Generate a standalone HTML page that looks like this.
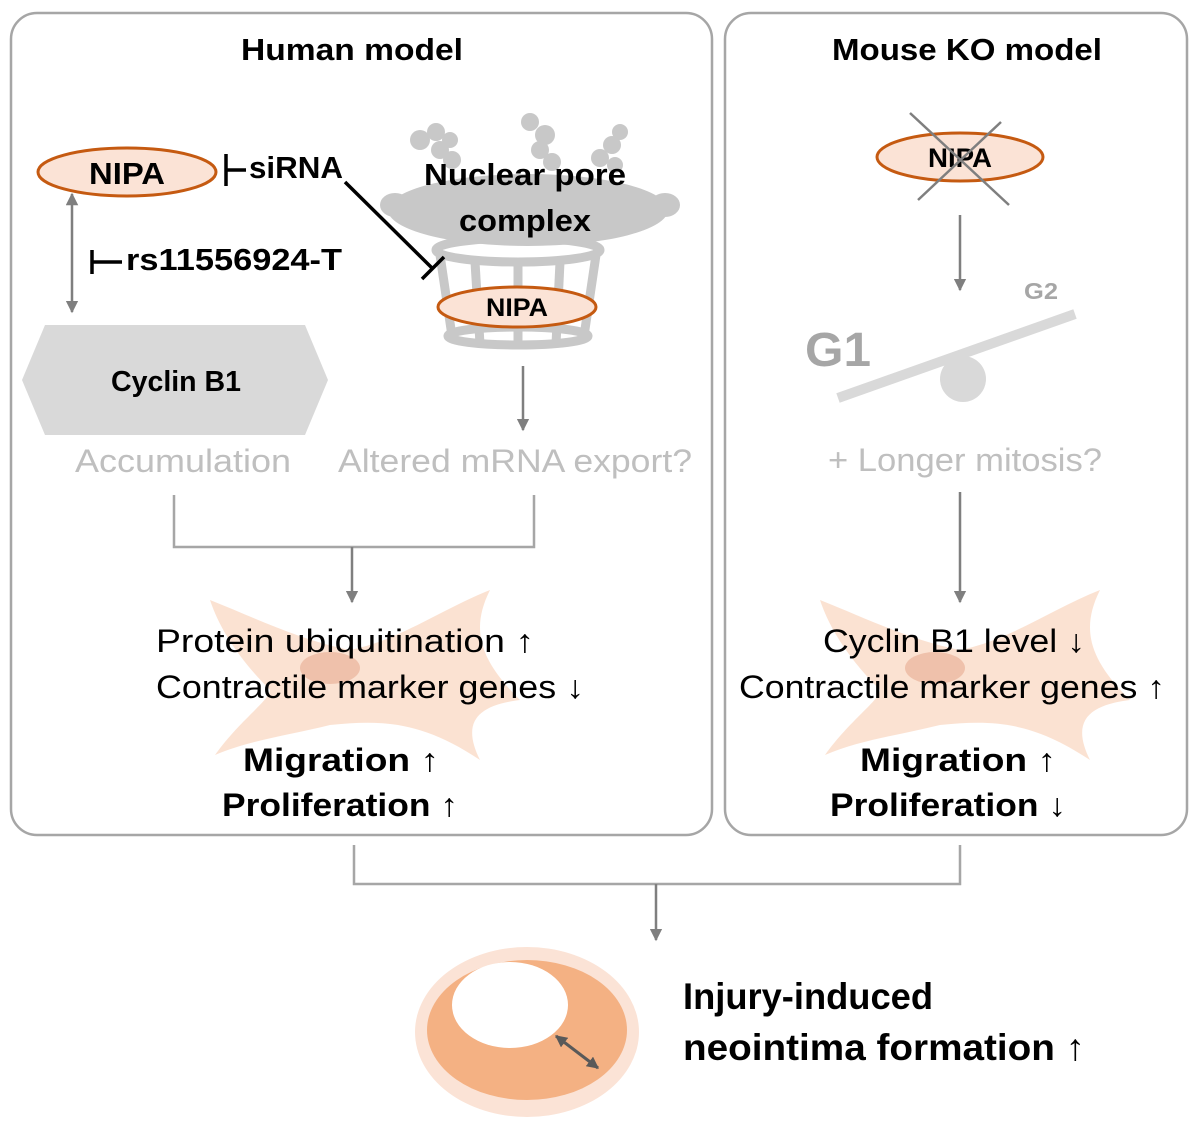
<!DOCTYPE html>
<html><head><meta charset="utf-8"><style>
html,body{margin:0;padding:0;background:#fff}
svg{display:block}
text{font-family:"Liberation Sans",sans-serif}
</style></head><body>
<svg width="1200" height="1128" viewBox="0 0 1200 1128" xmlns="http://www.w3.org/2000/svg">
<defs>
<marker id="ag" viewBox="0 0 10 10" refX="9" refY="5" markerWidth="5" markerHeight="5" orient="auto-start-reverse"><path d="M0,0L10,5L0,10z" fill="#7f7f7f"/></marker>
<marker id="ad" viewBox="0 0 10 10" refX="9" refY="5" markerWidth="4" markerHeight="4" orient="auto-start-reverse"><path d="M0,0L10,5L0,10z" fill="#595959"/></marker>
</defs>
<!-- boxes -->
<rect x="11" y="13" width="701" height="822" rx="26" fill="none" stroke="#a6a6a6" stroke-width="2.5"/>
<rect x="725" y="13" width="462" height="822" rx="26" fill="none" stroke="#a6a6a6" stroke-width="2.5"/>
<text x="352" y="60" text-anchor="middle" font-size="31" font-weight="bold" textLength="222" lengthAdjust="spacingAndGlyphs">Human model</text>
<text x="967" y="60" text-anchor="middle" font-size="31" font-weight="bold" textLength="270" lengthAdjust="spacingAndGlyphs">Mouse KO model</text>

<!-- NIPA left -->
<ellipse cx="127" cy="172" rx="89" ry="24" fill="#fbe3d6" stroke="#c55a11" stroke-width="3"/>
<text x="127" y="184" text-anchor="middle" font-size="31" font-weight="bold" textLength="76" lengthAdjust="spacingAndGlyphs">NIPA</text>
<line x1="226" y1="154" x2="226" y2="186" stroke="#000" stroke-width="3.5"/>
<line x1="226" y1="170" x2="246" y2="170" stroke="#000" stroke-width="3.5"/>
<text x="249" y="178" font-size="31" font-weight="bold" textLength="94" lengthAdjust="spacingAndGlyphs">siRNA</text>
<line x1="72" y1="194" x2="72" y2="312" stroke="#7f7f7f" stroke-width="2.5" marker-start="url(#ag)" marker-end="url(#ag)"/>
<line x1="92" y1="250" x2="92" y2="274" stroke="#000" stroke-width="3.5"/>
<line x1="92" y1="262" x2="122" y2="262" stroke="#000" stroke-width="3.5"/>
<text x="126" y="270" font-size="31" font-weight="bold" textLength="216" lengthAdjust="spacingAndGlyphs">rs11556924-T</text>
<polygon points="22,380 45,325 305,325 328,380 305,435 45,435" fill="#d9d9d9"/>
<text x="176" y="391" text-anchor="middle" font-size="29" font-weight="bold" textLength="130" lengthAdjust="spacingAndGlyphs">Cyclin B1</text>
<text x="183" y="472" text-anchor="middle" font-size="32" fill="#bfbfbf" textLength="216" lengthAdjust="spacingAndGlyphs">Accumulation</text>
<text x="515" y="472" text-anchor="middle" font-size="32" fill="#bfbfbf" textLength="354" lengthAdjust="spacingAndGlyphs">Altered mRNA export?</text>

<!-- NPC -->
<g fill="#c8c8c8">
<circle cx="420" cy="140" r="10"/><circle cx="436" cy="132" r="9"/><circle cx="450" cy="140" r="8"/><circle cx="440" cy="150" r="9"/><circle cx="452" cy="160" r="9"/>
<circle cx="530" cy="122" r="9"/><circle cx="545" cy="135" r="10"/><circle cx="540" cy="150" r="9"/><circle cx="552" cy="162" r="9"/>
<circle cx="620" cy="132" r="8"/><circle cx="612" cy="145" r="9"/><circle cx="600" cy="158" r="9"/><circle cx="615" cy="165" r="8"/>
<ellipse cx="528" cy="210" rx="140" ry="36"/>
<ellipse cx="395" cy="205" rx="15" ry="12"/><ellipse cx="665" cy="205" rx="15" ry="12"/>
</g>
<g fill="none" stroke="#c8c8c8" stroke-width="9">
<ellipse cx="518" cy="250" rx="82" ry="12"/>
<ellipse cx="518" cy="336" rx="70" ry="9"/>
<line x1="440" y1="255" x2="452" y2="336"/><line x1="596" y1="255" x2="584" y2="336"/>
<line x1="475" y1="262" x2="480" y2="344"/><line x1="518" y1="262" x2="518" y2="345"/><line x1="560" y1="262" x2="556" y2="344"/>
</g>
<ellipse cx="517" cy="307" rx="79" ry="20" fill="#fbe3d6" stroke="#c55a11" stroke-width="3"/>
<text x="517" y="316" text-anchor="middle" font-size="25" font-weight="bold" textLength="62" lengthAdjust="spacingAndGlyphs">NIPA</text>
<text x="525" y="185" text-anchor="middle" font-size="31" font-weight="bold" textLength="202" lengthAdjust="spacingAndGlyphs">Nuclear pore</text>
<text x="525" y="231" text-anchor="middle" font-size="31" font-weight="bold" textLength="132" lengthAdjust="spacingAndGlyphs">complex</text>
<line x1="345" y1="182" x2="432" y2="268" stroke="#000" stroke-width="3.5"/>
<line x1="422" y1="279" x2="444" y2="257" stroke="#000" stroke-width="3.5"/>
<line x1="523" y1="366" x2="523" y2="430" stroke="#7f7f7f" stroke-width="2.5" marker-end="url(#ag)"/>

<!-- bracket left -->
<polyline points="174,495 174,547 534,547 534,495" fill="none" stroke="#a6a6a6" stroke-width="2.5"/>
<line x1="352" y1="547" x2="352" y2="602" stroke="#7f7f7f" stroke-width="2.5" marker-end="url(#ag)"/>

<!-- cells -->
<g fill="#f8cbad" opacity="0.55">
<path d="M210,600 C260,620 300,640 350,650 C400,640 440,610 490,590 C470,630 480,660 520,700 C480,705 460,720 480,760 C420,720 380,720 330,725 C290,735 250,740 215,755 C240,720 270,700 270,690 C240,660 220,630 210,600z"/>
<path d="M820,600 C870,620 910,640 960,650 C1010,640 1050,610 1100,590 C1080,630 1090,660 1130,700 C1090,705 1070,720 1090,760 C1030,720 990,720 940,725 C900,735 860,740 825,755 C850,720 880,700 880,690 C850,660 830,630 820,600z"/>
</g>
<ellipse cx="330" cy="668" rx="30" ry="16" fill="#e5a68a" opacity="0.55"/>
<ellipse cx="935" cy="668" rx="30" ry="16" fill="#e5a68a" opacity="0.55"/>

<text x="156" y="652" font-size="32" textLength="378" lengthAdjust="spacingAndGlyphs">Protein ubiquitination ↑</text>
<text x="156" y="698" font-size="32" textLength="428" lengthAdjust="spacingAndGlyphs">Contractile marker genes ↓</text>
<text x="341" y="771" text-anchor="middle" font-size="32" font-weight="bold" textLength="196" lengthAdjust="spacingAndGlyphs">Migration ↑</text>
<text x="340" y="816" text-anchor="middle" font-size="32" font-weight="bold" textLength="236" lengthAdjust="spacingAndGlyphs">Proliferation ↑</text>

<!-- right -->
<ellipse cx="960" cy="157" rx="83" ry="24" fill="#fbe3d6" stroke="#c55a11" stroke-width="3"/>
<text x="960" y="167" text-anchor="middle" font-size="27" font-weight="bold" textLength="64" lengthAdjust="spacingAndGlyphs">NIPA</text>
<line x1="910" y1="113" x2="1009" y2="205" stroke="#7f7f7f" stroke-width="2.5"/>
<line x1="1001" y1="122" x2="918" y2="200" stroke="#7f7f7f" stroke-width="2.5"/>
<line x1="960" y1="215" x2="960" y2="290" stroke="#7f7f7f" stroke-width="2.5" marker-end="url(#ag)"/>
<line x1="838" y1="398" x2="1075" y2="314" stroke="#d9d9d9" stroke-width="10"/>
<circle cx="963" cy="379" r="23" fill="#d9d9d9"/>
<text x="805" y="366" font-size="48" font-weight="bold" fill="#a6a6a6" textLength="66" lengthAdjust="spacingAndGlyphs">G1</text>
<text x="1024" y="299" font-size="23" font-weight="bold" fill="#a6a6a6" textLength="34" lengthAdjust="spacingAndGlyphs">G2</text>
<text x="965" y="471" text-anchor="middle" font-size="32" fill="#bfbfbf" textLength="274" lengthAdjust="spacingAndGlyphs">+ Longer mitosis?</text>
<line x1="960" y1="492" x2="960" y2="602" stroke="#7f7f7f" stroke-width="2.5" marker-end="url(#ag)"/>
<text x="823" y="652" font-size="32" textLength="262" lengthAdjust="spacingAndGlyphs">Cyclin B1 level ↓</text>
<text x="739" y="698" font-size="32" textLength="426" lengthAdjust="spacingAndGlyphs">Contractile marker genes ↑</text>
<text x="958" y="771" text-anchor="middle" font-size="32" font-weight="bold" textLength="196" lengthAdjust="spacingAndGlyphs">Migration ↑</text>
<text x="948" y="816" text-anchor="middle" font-size="32" font-weight="bold" textLength="236" lengthAdjust="spacingAndGlyphs">Proliferation ↓</text>

<!-- bottom -->
<polyline points="354,845 354,884 960,884 960,845" fill="none" stroke="#a6a6a6" stroke-width="2.5"/>
<line x1="656" y1="884" x2="656" y2="940" stroke="#7f7f7f" stroke-width="2.5" marker-end="url(#ag)"/>
<ellipse cx="527" cy="1032" rx="112" ry="85" fill="#fbe3d6"/>
<ellipse cx="527" cy="1030" rx="100" ry="70" fill="#f4b183"/>
<ellipse cx="510" cy="1005" rx="58" ry="43" fill="#fff"/>
<line x1="556" y1="1036" x2="598" y2="1068" stroke="#595959" stroke-width="3" marker-start="url(#ad)" marker-end="url(#ad)"/>
<text x="683" y="1009" font-size="37" font-weight="bold" textLength="250" lengthAdjust="spacingAndGlyphs">Injury-induced</text>
<text x="683" y="1060" font-size="37" font-weight="bold" textLength="402" lengthAdjust="spacingAndGlyphs">neointima formation ↑</text>
</svg>
</body></html>
